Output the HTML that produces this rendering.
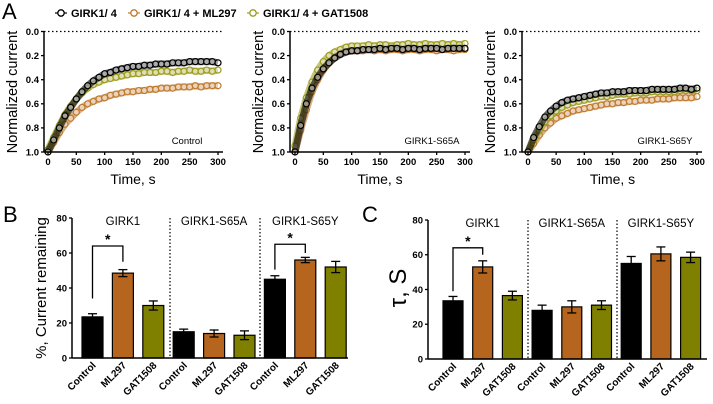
<!DOCTYPE html>
<html><head><meta charset="utf-8"><style>
html,body{margin:0;padding:0;background:#fff;}
svg{display:block;font-family:"Liberation Sans",Arial,sans-serif;}
</style></head><body>
<svg id="fig" width="713" height="404" viewBox="0 0 713 404" xmlns="http://www.w3.org/2000/svg"></svg>
<script>
// ---------- Panel A data (normalized current, sampled every 10 s from 0 to 300 s) ----------
const timeTicks = [0,50,100,150,200,250,300];
const currentTicks = [0.0,0.2,0.4,0.6,0.8,1.0];
const currentTickLabels = ["0.0","0.2","0.4","0.6","0.8","1.0"];
const times = [0,10,20,30,40,50,60,70,80,90,100,110,120,130,140,150,160,170,180,190,200,210,220,230,240,250,260,270,280,290,300];
const controlBlack = [1.0,0.9,0.8,0.7,0.63,0.56,0.5,0.45,0.41,0.38,0.35,0.34,0.32,0.31,0.3,0.29,0.29,0.28,0.28,0.27,0.27,0.27,0.26,0.26,0.26,0.25,0.25,0.25,0.25,0.25,0.26];
const controlOlive = [0.98,0.88,0.78,0.69,0.62,0.56,0.51,0.47,0.44,0.42,0.40,0.39,0.38,0.37,0.36,0.35,0.35,0.34,0.34,0.34,0.33,0.33,0.34,0.33,0.33,0.32,0.33,0.33,0.32,0.33,0.32];
const controlOrange = [1.0,0.92,0.84,0.77,0.72,0.67,0.63,0.6,0.58,0.56,0.55,0.53,0.52,0.51,0.5,0.5,0.49,0.49,0.48,0.48,0.47,0.47,0.47,0.46,0.46,0.46,0.45,0.46,0.45,0.45,0.45];
const s65aBlack = [1.0,0.78,0.6,0.47,0.38,0.31,0.26,0.22,0.19,0.17,0.16,0.16,0.15,0.15,0.15,0.14,0.15,0.14,0.14,0.15,0.14,0.14,0.15,0.14,0.14,0.14,0.15,0.14,0.14,0.14,0.14];
const s65aOlive = [0.95,0.72,0.55,0.42,0.32,0.25,0.2,0.17,0.15,0.13,0.12,0.12,0.12,0.11,0.12,0.11,0.11,0.12,0.11,0.11,0.1,0.11,0.11,0.1,0.11,0.11,0.1,0.11,0.1,0.11,0.1];
const s65aOrange = [1.0,0.82,0.65,0.5,0.4,0.32,0.26,0.21,0.18,0.17,0.16,0.16,0.16,0.15,0.16,0.15,0.16,0.15,0.15,0.16,0.15,0.15,0.16,0.15,0.15,0.16,0.15,0.15,0.16,0.15,0.15];
const s65yBlack = [1.0,0.88,0.79,0.71,0.66,0.62,0.59,0.57,0.56,0.55,0.54,0.53,0.52,0.51,0.51,0.5,0.5,0.5,0.49,0.49,0.49,0.49,0.48,0.48,0.48,0.48,0.48,0.47,0.47,0.48,0.47];
const s65yOlive = [1.0,0.9,0.82,0.75,0.7,0.66,0.63,0.61,0.59,0.58,0.57,0.56,0.55,0.54,0.54,0.53,0.52,0.52,0.52,0.51,0.51,0.51,0.5,0.5,0.5,0.5,0.5,0.49,0.49,0.49,0.49];
const s65yOrange = [1.0,0.93,0.86,0.8,0.76,0.72,0.7,0.68,0.66,0.65,0.64,0.63,0.62,0.61,0.6,0.6,0.59,0.59,0.58,0.58,0.57,0.57,0.57,0.56,0.56,0.56,0.55,0.55,0.55,0.55,0.54];

// ---------- Panel B / C data ----------
const barCategories = ["Control","ML297","GAT1508","Control","ML297","GAT1508","Control","ML297","GAT1508"];
const groupNames = ["GIRK1","GIRK1-S65A","GIRK1-S65Y"];
const barTicks = [0,20,40,60,80];
const remainingValues = [23.5,48.5,30,15,14,13,45,56,52];
const remainingErrors = [1.8,2,2.6,1.5,2,2.5,2,1.5,3.2];
const tauValues = [33.5,53,36.5,28,30,31,55,60.5,58.5];
const tauErrors = [2.5,3.5,2.5,3,3.5,2.5,4,4,3];

const NS="http://www.w3.org/2000/svg";
const svg=document.getElementById('fig');
function mk(tag,attrs,parent,text){const e=document.createElementNS(NS,tag);for(const k in attrs)e.setAttribute(k,attrs[k]);if(text!==undefined)e.textContent=text;(parent||svg).appendChild(e);return e;}

const COL={black:"#000000",orange:"#c07a2e",olive:"#9c9c1e"};
const BARCOL=["#000000","#b5651d","#7f7f00"];

// Panel letters
[["A",2,19],["B",3,222],["C",362,222]].forEach(([t,x,y])=>{
  const e=mk('text',{x:x,y:y,'font-size':22},svg,t);
  
  
});

// Legend
const legend=mk('g',{});


[[55,"GIRK1/ 4",COL.black],[128,"GIRK1/ 4 + ML297",COL.orange],[247,"GIRK1/ 4 + GAT1508",COL.olive]].forEach(([x,t,c],i)=>{
  const g=mk('g',{},legend);
  
  
  mk('line',{x1:x,y1:13,x2:x+12,y2:13,stroke:c,'stroke-width':1.2},g);
  mk('circle',{cx:x+6,cy:13,r:3.2,fill:'#fff',stroke:c,'stroke-width':1.3},g);
  mk('text',{x:x+16,y:17,'font-size':11,'font-weight':'bold'},g,t);
});

function panelA(name,axX,x0,x1,labelX,inset,insetX,series){
  const yTop=31.5,yBot=152;
  const sx=t=>x0+(t/300)*(x1-x0);
  const sy=v=>yTop+v*(yBot-yTop);
  const g=mk('g',{});
  
  
  series.forEach(([arr,c,sname])=>{
    const sg=mk('g',{},g);
    
    
    mk('polyline',{points:arr.map((v,i)=>sx(times[i])+','+sy(v)).join(' '),fill:'none',stroke:c,'stroke-width':7,'stroke-opacity':0.6,'stroke-linejoin':'round'},sg);
    arr.forEach((v,i)=>{
      const p=mk('circle',{cx:sx(times[i]),cy:sy(v),r:3,fill:'#fff','fill-opacity':0.45,stroke:c,'stroke-width':1.2},sg);
      
      
    });
  });
  mk('line',{x1:axX,y1:sy(0),x2:x1+5,y2:sy(0),stroke:'#000','stroke-width':1.2,'stroke-dasharray':'1.5,2.5'},g);
  const ya=mk('g',{},g);
  
  
  mk('line',{x1:axX,y1:yTop,x2:axX,y2:yBot,stroke:'#000','stroke-width':1.5},ya);
  currentTicks.forEach((v,i)=>{
    mk('line',{x1:axX-3,y1:sy(v),x2:axX,y2:sy(v),stroke:'#000','stroke-width':1.3},ya);
    mk('text',{x:axX-5,y:sy(v)+3.3,'font-size':9.5,'font-weight':'bold','text-anchor':'end'},ya,currentTickLabels[i]);
  });
  const xa=mk('g',{},g);
  
  
  mk('line',{x1:axX,y1:yBot,x2:x1+5,y2:yBot,stroke:'#000','stroke-width':1.5},xa);
  timeTicks.forEach(t=>{
    mk('line',{x1:sx(t),y1:yBot,x2:sx(t),y2:yBot+3,stroke:'#000','stroke-width':1.3},xa);
    mk('text',{x:sx(t),y:yBot+13,'font-size':9.5,'font-weight':'bold','text-anchor':'middle'},xa,String(t));
  });
  const xt=mk('text',{x:(x0+x1)/2,y:184,'font-size':14,'text-anchor':'middle'},g,'Time, s');
  
  
  const yt=mk('text',{x:0,y:0,'font-size':14.5,'text-anchor':'middle',transform:`translate(${labelX},92) rotate(-90)`},g,'Normalized current');
  
  
  const it=mk('text',{x:insetX,y:144,'font-size':9.5,'text-anchor':'middle'},g,inset);
  
  
}

panelA('control',44,48,218,17,'Control',187,[[controlOrange,COL.orange,'ml297'],[controlOlive,COL.olive,'gat1508'],[controlBlack,COL.black,'girk1-4']]);
panelA('s65a',290,295,465,263,'GIRK1-S65A',432,[[s65aOrange,COL.orange,'ml297'],[s65aOlive,COL.olive,'gat1508'],[s65aBlack,COL.black,'girk1-4']]);
panelA('s65y',522,528,697,495,'GIRK1-S65Y',665,[[s65yOrange,COL.orange,'ml297'],[s65yOlive,COL.olive,'gat1508'],[s65yBlack,COL.black,'girk1-4']]);

function panelBar(name,axX,y0,y80,c0,pitch,bw,seps,axEnd,vals,errs,ylabel,ylX,ylSize,brackets,gY){
  const sy=v=>y0-(v/80)*(y0-y80);
  const cx=i=>c0+i*pitch;
  const g=mk('g',{});
  
  
  seps.forEach(x=>mk('line',{x1:x,y1:y80,x2:x,y2:y0,stroke:'#000','stroke-width':1.2,'stroke-dasharray':'1.5,2'},g));
  vals.forEach((v,i)=>{
    const b=mk('rect',{x:cx(i)-bw/2,y:sy(v),width:bw,height:y0-sy(v),fill:BARCOL[i%3],stroke:'#000','stroke-width':1.2},g);
    
    
    const e=errs[i],eg=mk('g',{},g);
    
    
    mk('line',{x1:cx(i),y1:sy(v+e),x2:cx(i),y2:sy(v-e),stroke:'#000','stroke-width':1.3},eg);
    mk('line',{x1:cx(i)-4.5,y1:sy(v+e),x2:cx(i)+4.5,y2:sy(v+e),stroke:'#000','stroke-width':1.3},eg);
    mk('line',{x1:cx(i)-4.5,y1:sy(v-e),x2:cx(i)+4.5,y2:sy(v-e),stroke:'#000','stroke-width':1.3},eg);
    const t=mk('text',{x:0,y:0,'font-size':10,'font-weight':'bold','text-anchor':'end',transform:`translate(${cx(i)+4},${y0+8}) rotate(-45)`},g,barCategories[i]);
    
    
  });
  groupNames.forEach((n,k)=>{
    const t=mk('text',{x:cx(k*3+1),y:gY,'font-size':11.5,'text-anchor':'middle'},g,n);
    
    
  });
  brackets.forEach(([i,j,vi,top,vj])=>{
    const bg=mk('g',{},g);
    
    
    mk('polyline',{points:`${cx(i)},${sy(vi)} ${cx(i)},${sy(top)} ${cx(j)},${sy(top)} ${cx(j)},${sy(vj)}`,fill:'none',stroke:'#000','stroke-width':1.3},bg);
    mk('text',{x:(cx(i)+cx(j))/2,y:sy(top)-2,'font-size':14,'font-weight':'bold','text-anchor':'middle'},bg,'*');
  });
  const ya=mk('g',{},g);
  
  
  mk('line',{x1:axX,y1:y80,x2:axX,y2:y0,stroke:'#000','stroke-width':1.5},ya);
  mk('line',{x1:axX,y1:y0,x2:axEnd,y2:y0,stroke:'#000','stroke-width':1.5},ya);
  barTicks.forEach(v=>{
    mk('line',{x1:axX-3,y1:sy(v),x2:axX,y2:sy(v),stroke:'#000','stroke-width':1.3},ya);
    mk('text',{x:axX-5,y:sy(v)+3.3,'font-size':9.5,'font-weight':'bold','text-anchor':'end'},ya,String(v));
  });
  const yt=mk('text',{x:0,y:0,'font-size':ylSize,'text-anchor':'middle',transform:`translate(${ylX},288) rotate(-90)`},g,ylabel);
  
  
}

panelBar('current-remaining',72,358,218,92.5,30.4,21,[170,260],348,remainingValues,remainingErrors,'%, Current remaining',46,15,[[0,1,34,64,55],[6,7,50.5,65,60]],225);
panelBar('tau',428,359,220,453,29.7,20,[528,617],707,tauValues,tauErrors,'τ, S',406,24,[[0,1,39,64,60]],227);
</script>
</body></html>
